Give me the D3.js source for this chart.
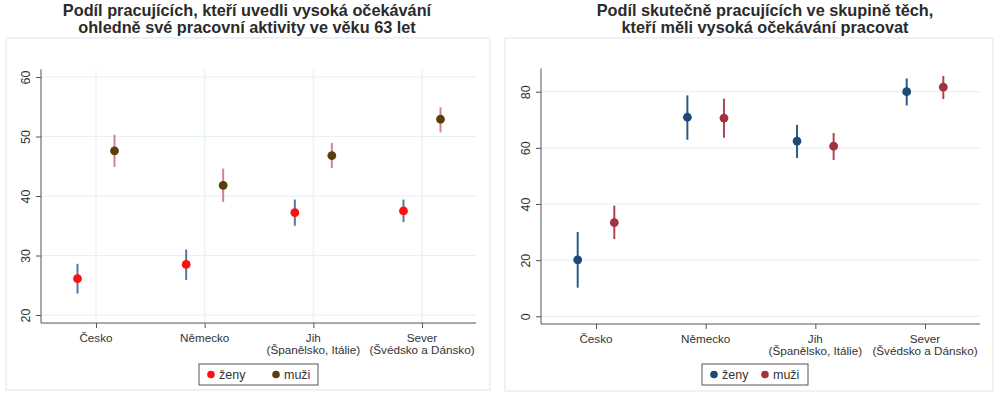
<!DOCTYPE html>
<html>
<head>
<meta charset="utf-8">
<script src="https://cdn.jsdelivr.net/npm/d3@7"></script>
<style>
  body { margin: 0; background: #fff; }
  text { font-family: "Liberation Sans", Arial, sans-serif; fill: #333; }
</style>
</head>
<body>
<div id="chart"></div>
<script>
// kategorie na ose x
const categories = ['Česko', 'Německo', 'Jih|(Španělsko, Itálie)', 'Sever|(Švédsko a Dánsko)'];
const seriesNames = ['ženy', 'muži'];

// levý graf - vysoká očekávání ve věku 63 let
const leftTitle = ['Podíl pracujících, kteří uvedli vysoká očekávání', 'ohledně své pracovní aktivity ve věku 63 let'];
const leftZeny = [26.1, 28.5, 37.2, 37.5];
const leftZenyLo = [23.6, 25.9, 35.0, 35.6];
const leftZenyHi = [28.6, 31.0, 39.4, 39.4];
const leftMuzi = [47.6, 41.8, 46.8, 52.9];
const leftMuziLo = [44.9, 39.0, 44.7, 50.7];
const leftMuziHi = [50.3, 44.6, 48.9, 54.9];
const leftTicks = [20, 30, 40, 50, 60];

// pravý graf - skutečně pracující
const rightTitle = ['Podíl skutečně pracujících ve skupině těch,', 'kteří měli vysoká očekávání pracovat'];
const rightZeny = [20.1, 70.9, 62.4, 80.0];
const rightZenyLo = [10.2, 62.9, 56.4, 75.1];
const rightZenyHi = [30.0, 78.7, 68.2, 84.7];
const rightMuzi = [33.4, 70.6, 60.6, 81.6];
const rightMuziLo = [27.5, 63.6, 55.7, 77.4];
const rightMuziHi = [39.4, 77.5, 65.3, 85.6];
const rightTicks = [0, 20, 40, 60, 80];

const width = 1000, height = 399;

const svg = d3.select('#chart')
    .append('svg')
    .attr('width', width)
    .attr('height', height);

function panel(opt) {
    const g = svg.append('g');

    // rámeček panelu
    g.append('rect')
        .attr('x', opt.box[0]).attr('y', opt.box[1])
        .attr('width', opt.box[2]).attr('height', opt.box[3])
        .attr('fill', '#fff')
        .attr('stroke', '#e6eef3')
        .attr('stroke-width', 1.5);

    // nadpis
    opt.title.forEach(function(t, i) {
        g.append('text')
            .attr('x', opt.titleX)
            .attr('y', 15.5 + i * 17)
            .attr('text-anchor', 'middle')
            .attr('font-size', 16.3)
            .attr('font-weight', 'bold')
            .style('fill', '#2b2b2b')
            .text(t);
    });

    const x = d3.scalePoint()
        .domain(categories)
        .range(opt.xRange);

    const y = d3.scaleLinear()
        .domain(opt.yDomain)
        .range(opt.yRange);

    const y0 = y(opt.yMin), y1 = y(opt.yMax);

    // mřížka
    g.selectAll('.hgrid')
        .data(opt.ticks)
        .enter()
        .append('line')
        .attr('x1', opt.axisX).attr('x2', opt.xEnd)
        .attr('y1', d => y(d)).attr('y2', d => y(d))
        .attr('stroke', '#e7f0f5')
        .attr('stroke-width', 1.2);

    if (opt.vgrid) {
        g.selectAll('.vgrid')
            .data(categories)
            .enter()
            .append('line')
            .attr('x1', d => x(d)).attr('x2', d => x(d))
            .attr('y1', y1).attr('y2', y0)
            .attr('stroke', '#e7f0f5')
            .attr('stroke-width', 1.2);
    }

    // osa y
    const yAxis = g.append('g')
        .attr('transform', 'translate(' + opt.axisX + ',0)')
        .call(d3.axisLeft(y).tickValues(opt.ticks).tickSize(5).tickPadding(4));
    yAxis.select('.domain').attr('d', 'M0,' + y1 + 'V' + y0).attr('stroke', '#555');
    yAxis.selectAll('.tick line').attr('stroke', '#555');
    yAxis.selectAll('.tick text')
        .attr('font-size', 12.5)
        .attr('transform', 'rotate(-90)')
        .attr('x', 0)
        .attr('y', -11)
        .attr('text-anchor', 'middle')
        .attr('dy', 0)
        .style('fill', '#333');

    // osa x
    const xAxis = g.append('g')
        .attr('transform', 'translate(0,' + y0 + ')')
        .call(d3.axisBottom(x).tickSize(5).tickFormat(''));
    xAxis.select('.domain').attr('d', 'M' + opt.axisX + ',0H' + opt.xEnd).attr('stroke', '#555');
    xAxis.selectAll('.tick line').attr('stroke', '#555');

    categories.forEach(function(c) {
        c.split('|').forEach(function(s, i) {
            g.append('text')
                .attr('x', x(c))
                .attr('y', y0 + 18.5 + i * 12)
                .attr('text-anchor', 'middle')
                .attr('font-size', 11.7)
                .text(s);
        });
    });

    // intervaly spolehlivosti a body
    const series = [
        { v: opt.zeny, lo: opt.zenyLo, hi: opt.zenyHi, off: -opt.offset, dot: opt.colors[0], ci: opt.ciColors[0] },
        { v: opt.muzi, lo: opt.muziLo, hi: opt.muziHi, off: opt.offset, dot: opt.colors[1], ci: opt.ciColors[1] }
    ];
    series.forEach(function(s) {
        g.selectAll(null)
            .data(categories)
            .enter()
            .append('line')
            .attr('x1', d => x(d) + s.off).attr('x2', d => x(d) + s.off)
            .attr('y1', (d, i) => y(s.lo[i])).attr('y2', (d, i) => y(s.hi[i]))
            .attr('stroke', s.ci)
            .attr('stroke-width', 2);
        g.selectAll(null)
            .data(categories)
            .enter()
            .append('circle')
            .attr('cx', d => x(d) + s.off)
            .attr('cy', (d, i) => y(s.v[i]))
            .attr('r', 4.4)
            .attr('fill', s.dot);
    });

    // legenda
    const lg = g.append('g').attr('transform', 'translate(' + opt.legend[0] + ',' + opt.legend[1] + ')');
    lg.append('rect')
        .attr('width', opt.legend[2]).attr('height', 21)
        .attr('fill', '#fff')
        .attr('stroke', '#555')
        .attr('stroke-width', 1);
    seriesNames.forEach(function(n, i) {
        const lx = 12 + i * opt.legendStep;
        lg.append('circle').attr('cx', lx).attr('cy', 10.5).attr('r', 3.8).attr('fill', opt.colors[i]);
        lg.append('text').attr('x', lx + 8).attr('y', 15).attr('font-size', 12.5).text(n);
    });
}

panel({
    box: [6, 38, 484, 352],
    title: leftTitle,
    titleX: 247,
    xRange: [96, 422],
    yDomain: [20, 60],
    yRange: [315, 77],
    yMin: 18.65,
    yMax: 61.3,
    axisX: 41,
    xEnd: 476,
    ticks: leftTicks,
    vgrid: true,
    offset: 18.5,
    zeny: leftZeny, zenyLo: leftZenyLo, zenyHi: leftZenyHi,
    muzi: leftMuzi, muziLo: leftMuziLo, muziHi: leftMuziHi,
    colors: ['#ff1010', '#5a3f0d'],
    ciColors: ['#557799', '#d08593'],
    legend: [199, 364, 119],
    legendStep: 65
});

panel({
    box: [505, 38, 488, 353],
    title: rightTitle,
    titleX: 765,
    xRange: [596, 925],
    yDomain: [0, 80],
    yRange: [316.3, 91.7],
    yMin: -2.75,
    yMax: 88.3,
    axisX: 541,
    xEnd: 980,
    ticks: rightTicks,
    vgrid: false,
    offset: 18.3,
    zeny: rightZeny, zenyLo: rightZenyLo, zenyHi: rightZenyHi,
    muzi: rightMuzi, muziLo: rightMuziLo, muziHi: rightMuziHi,
    colors: ['#1d4a78', '#a2323f'],
    ciColors: ['#2c5a86', '#b04452'],
    legend: [702, 364, 106],
    legendStep: 51
});
</script>
</body>
</html>
